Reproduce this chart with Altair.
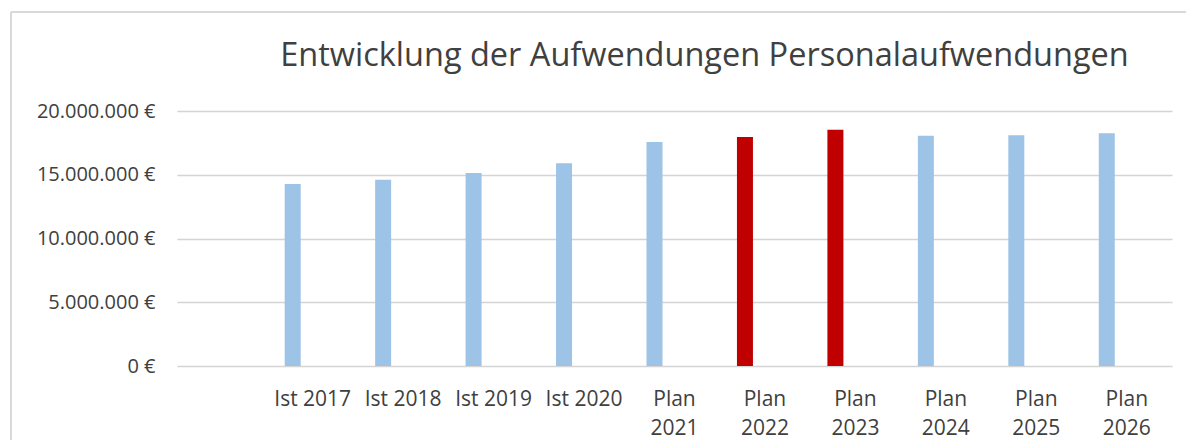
import altair as alt
import pandas as pd

categories = ["", "Ist 2017", "Ist 2018", "Ist 2019", "Ist 2020", "Plan 2021",
              "Plan 2022", "Plan 2023", "Plan 2024", "Plan 2025", "Plan 2026"]
bar_categories = categories[1:]
values = [14270000, 14610000, 15140000, 15900000, 17570000,
          17970000, 18520000, 18050000, 18100000, 18260000]
highlighted = ["Plan 2022", "Plan 2023"]
y_ticks = [0, 5000000, 10000000, 15000000, 20000000]

df = pd.DataFrame({"Kategorie": bar_categories, "Wert": values})

FONT = "Open Sans"
TEXT = "#404040"
GRID = "#D4D4D4"

bars = alt.Chart(df).mark_bar(width=16, xOffset=-20).encode(
    x=alt.X("Kategorie:N", sort=categories,
            scale=alt.Scale(domain=categories, paddingInner=0, paddingOuter=0),
            axis=alt.Axis(title=None, labelAngle=0, domain=False, ticks=False,
                          grid=False,
                          labelPadding=22, labelFontSize=21, labelFont=FONT,
                          labelColor=TEXT, labelLineHeight=29,
                          labelBaseline="top",
                          labelExpr="indexof(datum.value, 'Plan') == 0 ? split(datum.value, ' ') : datum.value")),
    y=alt.Y("Wert:Q", scale=alt.Scale(domain=[0, 20000000], nice=False),
            axis=alt.Axis(title=None, values=y_ticks, format="$,.0f",
                          domain=False, ticks=False, labelPadding=22,
                          labelFontSize=20, labelFont=FONT, labelColor=TEXT,
                          gridColor=GRID, gridWidth=1.5)),
    color=alt.condition(
        alt.FieldOneOfPredicate(field="Kategorie", oneOf=highlighted),
        alt.value("#C00000"), alt.value("#9DC3E6")),
)

frame = alt.Chart(df).mark_rule(color="#D9D9D9", strokeWidth=1.5).encode(
    x=alt.value(-166), y=alt.value(-99), y2=alt.value(400))
frame_top = alt.Chart(df).mark_rule(color="#D9D9D9", strokeWidth=1.5).encode(
    x=alt.value(-166), x2=alt.value(1100), y=alt.value(-99))

chart = alt.layer(frame, frame_top, bars).properties(
    width=995, height=255,
    title=alt.TitleParams("Entwicklung der Aufwendungen Personalaufwendungen",
                          font=FONT, fontSize=32.5, fontWeight="normal",
                          color=TEXT, frame="group", anchor="middle",
                          baseline="bottom", offset=-94, dx=30),
    autosize=alt.AutoSizeParams(type="none"),
    padding={"left": 169, "top": 103, "right": 14, "bottom": 74},
).configure(
    locale={"number": {"decimal": ",", "thousands": ".", "grouping": [3],
                       "currency": ["", " €"]}},
    view=alt.ViewConfig(strokeWidth=0),
)

chart.save("out.html", embed_options={"renderer": "svg", "actions": False})
